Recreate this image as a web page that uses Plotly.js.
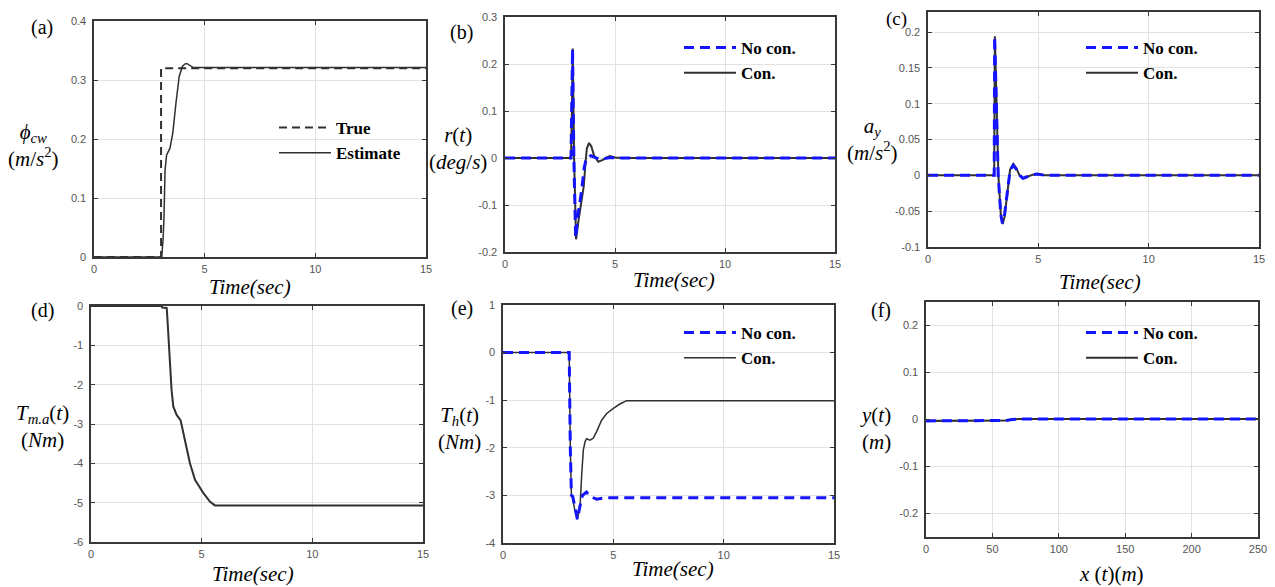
<!DOCTYPE html>
<html><head><meta charset="utf-8">
<script src="https://cdn.plot.ly/plotly-3.0.1.min.js"></script>
<style>html,body{margin:0;padding:0;background:#fff;} #chart{width:1275px;height:587px;}</style>
</head><body><div id="chart"></div>
<script>
// ---------- data ----------
// (a) cross-wind estimate
const tA_true = [0, 3.03, 3.03, 15];
const vA_true = [0, 0, 0.32, 0.32];
const tA_est = [0, 3.06, 3.12, 3.16, 3.21, 3.28, 3.43, 3.56, 3.7, 3.85, 3.99, 4.1, 4.19, 4.34, 4.49, 5, 15];
const vA_est = [0, 0, 0.03, 0.063, 0.147, 0.173, 0.184, 0.21, 0.26, 0.306, 0.323, 0.327, 0.328, 0.324, 0.321, 0.321, 0.321];
// (b) yaw rate r(t)
const tB_nc = [0, 3.0, 3.03, 3.07, 3.13, 3.21, 3.32, 3.48, 3.6, 3.7, 3.9, 4.3, 4.8, 5.2, 15];
const vB_nc = [0, 0, 0.1, 0.232, 0.0, -0.17, -0.12, -0.07, -0.02, 0.0, 0.005, -0.003, 0.001, 0, 0];
const tB_c = [0, 3.0, 3.04, 3.08, 3.14, 3.23, 3.35, 3.5, 3.58, 3.66, 3.72, 3.82, 3.92, 4.05, 4.24, 4.45, 4.6, 4.77, 5.0, 5.3, 15];
const vB_c = [0, 0, 0.1, 0.233, 0.0, -0.173, -0.13, -0.085, -0.06, -0.01, 0.02, 0.032, 0.025, 0.005, -0.008, -0.004, 0.001, 0.004, 0.001, 0, 0];
// (c) lateral acceleration a_y
const tC_nc = [0, 3.0, 3.02, 3.1, 3.18, 3.3, 3.37, 3.46, 3.6, 3.72, 3.86, 4.0, 4.15, 4.3, 4.5, 4.75, 4.95, 5.3, 15];
const vC_nc = [0, 0, 0.194, 0.08, 0.0, -0.055, -0.067, -0.057, -0.02, 0.007, 0.014, 0.009, 0.0, -0.004, -0.002, 0.001, 0.002, 0, 0];
const tC_c = [0, 3.0, 3.03, 3.11, 3.19, 3.3, 3.38, 3.47, 3.6, 3.72, 3.87, 4.0, 4.15, 4.32, 4.5, 4.75, 4.95, 5.3, 15];
const vC_c = [0, 0, 0.194, 0.077, 0.0, -0.055, -0.068, -0.058, -0.02, 0.008, 0.016, 0.01, 0.0, -0.004, -0.002, 0.001, 0.002, 0, 0];
// (d) assist motor torque
const tD = [0, 3.19, 3.22, 3.42, 3.45, 3.5, 3.57, 3.64, 3.72, 3.87, 4.05, 4.25, 4.47, 4.7, 5.08, 5.38, 5.6, 15];
const vD = [0, 0, -0.04, -0.05, -0.3, -0.8, -1.29, -2.14, -2.56, -2.77, -2.91, -3.41, -4.0, -4.42, -4.76, -4.98, -5.07, -5.07];
// (e) hand torque
const tE_nc = [0, 3.0, 3.05, 3.1, 3.16, 3.22, 3.37, 3.5, 3.6, 3.78, 3.95, 4.24, 4.6, 15];
const vE_nc = [0, 0, -2.0, -3.0, -3.02, -3.15, -3.5, -3.2, -3.0, -2.93, -3.02, -3.08, -3.05, -3.05];
const tE_c = [0, 3.0, 3.05, 3.1, 3.15, 3.25, 3.37, 3.49, 3.57, 3.64, 3.72, 3.79, 3.94, 4.09, 4.24, 4.47, 4.7, 5.0, 5.3, 5.6, 15];
const vE_c = [0, 0, -2.0, -2.99, -3.05, -3.3, -3.5, -3.24, -2.54, -2.05, -1.87, -1.81, -1.84, -1.8, -1.66, -1.42, -1.28, -1.17, -1.08, -1.01, -1.01];
// (f) trajectory
const xF = [0, 20, 40, 55, 60, 65, 70, 100, 150, 200, 250];
const yF_nc = [-0.003, -0.003, -0.003, -0.003, -0.002, 0.0, 0.001, 0.001, 0.001, 0.001, 0.001];
const yF_c = [-0.003, -0.003, -0.003, -0.003, -0.002, 0.0, 0.001, 0.001, 0.001, 0.001, 0.001];

// tick labels
const tT = [0, 5, 10, 15];
const tX_F = [0, 50, 100, 150, 200, 250];
const tY_A = [0, 0.1, 0.2, 0.3, 0.4];
const tY_B = [-0.2, -0.1, 0, 0.1, 0.2, 0.3];
const tY_C = [-0.1, -0.05, 0, 0.05, 0.1, 0.15, 0.2];
const tY_D = [-6, -5, -4, -3, -2, -1, 0];
const tY_E = [-4, -3, -2, -1, 0, 1];
const tY_F = [-0.2, -0.1, 0, 0.1, 0.2];
const lab = v => String(v);   // hyphen-minus like the reference

// ---------- layout ----------
const W = 1275, H = 587;
const boxes = { // left, right, top, bottom in px
  1: [94, 426, 21, 257], 2: [505, 835, 17, 252], 3: [928, 1259, 12, 247],
  4: [91, 423, 306, 542], 5: [503, 834, 305, 543], 6: [926, 1258, 302, 537]
};
const FRAME = '#383838';
function ax(n, isX, range, vals) {
  const b = boxes[n];
  return {
    domain: isX ? [b[0] / W, b[1] / W] : [1 - b[3] / H, 1 - b[2] / H],
    anchor: (isX ? 'y' : 'x') + (n === 1 ? '' : n),
    range: range, autorange: false, fixedrange: true,
    tickmode: 'array', tickvals: vals, ticktext: vals.map(lab),
    showline: true, linecolor: FRAME, linewidth: 1.6, mirror: 'ticks',
    ticks: 'inside', ticklen: 4, tickwidth: 1, tickcolor: FRAME,
    showgrid: true, gridcolor: '#e2e2e2', gridwidth: 1, zeroline: false,
    tickfont: { family: 'Liberation Sans, Arial, sans-serif', size: 11, color: '#555' },
    ticklabelstandoff: isX ? 1 : 4
  };
}
const layout = {
  width: W, height: H, margin: { l: 0, r: 0, t: 0, b: 0 },
  paper_bgcolor: '#fff', plot_bgcolor: '#fff', showlegend: true,
  xaxis: ax(1, true, [0, 15], tT), yaxis: ax(1, false, [0, 0.4], tY_A),
  xaxis2: ax(2, true, [0, 15], tT), yaxis2: ax(2, false, [-0.2, 0.3], tY_B),
  xaxis3: ax(3, true, [0, 15], tT), yaxis3: ax(3, false, [-0.1, 0.228], tY_C),
  xaxis4: ax(4, true, [0, 15], tT), yaxis4: ax(4, false, [-6, 0], tY_D),
  xaxis5: ax(5, true, [0, 15], tT), yaxis5: ax(5, false, [-4, 1], tY_E),
  xaxis6: ax(6, true, [0, 250], tX_F), yaxis6: ax(6, false, [-0.25, 0.25], tY_F),
  annotations: []
};
function leg(px, py) {
  return {
    x: px / W, y: 1 - py / H, xanchor: 'left', yanchor: 'top',
    bgcolor: 'rgba(0,0,0,0)', borderwidth: 0, itemwidth: 52,
    traceorder: 'normal',
    font: { family: 'Liberation Serif, Times New Roman, serif', size: 17, color: '#000' }
  };
}
layout.legend = leg(274, 110);
layout.legend2 = leg(679, 30);
layout.legend3 = leg(1081, 30);
layout.legend5 = leg(679, 315);
layout.legend6 = leg(1081, 315);

// text annotations
const SERIF = 'Liberation Serif, Times New Roman, serif';
function txt(s, px, py, size) {
  layout.annotations.push({
    text: s, xref: 'paper', yref: 'paper', x: px / W, y: 1 - py / H,
    xanchor: 'center', yanchor: 'middle', showarrow: false,
    font: { family: SERIF, size: size, color: '#000' }
  });
}
// panel labels
txt('(a)', 42, 27, 20); txt('(b)', 461, 32, 20); txt('(c)', 896, 19, 19);
txt('(d)', 43, 310, 20); txt('(e)', 462, 308, 20); txt('(f)', 881, 310, 20);
// x titles
txt('<i>Time(sec)</i>', 250, 287, 21); txt('<i>Time(sec)</i>', 674, 280, 21);
txt('<i>Time(sec)</i>', 1100, 282, 21); txt('<i>Time(sec)</i>', 253, 574, 21);
txt('<i>Time(sec)</i>', 673, 569, 21); txt('<i>x</i> (<i>t</i>)(<i>m</i>)', 1111, 574, 21);
// y titles (two lines)
txt('<i>ϕ<sub>cw</sub></i><br>(<i>m</i>/<i>s</i><sup>2</sup>)', 33, 146, 21);
txt('<i>r</i>(<i>t</i>)<br>(<i>deg</i>/<i>s</i>)', 458, 149, 21);
txt('<i>a<sub>y</sub></i><br>(<i>m</i>/<i>s</i><sup>2</sup>)', 872, 140, 21);
txt('<i>T<sub>m.a</sub></i>(<i>t</i>)<br>(<i>Nm</i>)', 43, 426, 21);
txt('<i>T<sub>h</sub></i>(<i>t</i>)<br>(<i>Nm</i>)', 459, 428, 21);
txt('<i>y</i>(<i>t</i>)<br>(<i>m</i>)', 875, 428, 21);

// ---------- traces ----------
const BLUE = '#1414ff', BLK = '#303030';
const dashBlue = { color: BLUE, width: 3, dash: '10px,6px' };
const solidBlk = { color: BLK, width: 2 };
function tr(x, y, n, name, line, legend, rank, show) {
  return { x: x, y: y, xaxis: 'x' + (n === 1 ? '' : n), yaxis: 'y' + (n === 1 ? '' : n),
    type: 'scatter', mode: 'lines', name: name, line: line, legend: legend,
    legendrank: rank, showlegend: show !== false, hoverinfo: 'skip' };
}
const data = [
  tr(tA_true, vA_true, 1, '<b>True</b>', { color: BLK, width: 2, dash: '8px,5px' }, 'legend', 1),
  tr(tA_est, vA_est, 1, '<b>Estimate</b>', { color: BLK, width: 1.5 }, 'legend', 2),
  tr(tB_c, vB_c, 2, '<b>Con.</b>', solidBlk, 'legend2', 2),
  tr(tB_nc, vB_nc, 2, '<b>No con.</b>', dashBlue, 'legend2', 1),
  tr(tC_c, vC_c, 3, '<b>Con.</b>', solidBlk, 'legend3', 2),
  tr(tC_nc, vC_nc, 3, '<b>No con.</b>', dashBlue, 'legend3', 1),
  tr(tD, vD, 4, 'T_m.a', { color: BLK, width: 2 }, 'legend4', 1, false),
  tr(tE_c, vE_c, 5, '<b>Con.</b>', { color: BLK, width: 1.5 }, 'legend5', 2),
  tr(tE_nc, vE_nc, 5, '<b>No con.</b>', dashBlue, 'legend5', 1),
  tr(xF, yF_c, 6, '<b>Con.</b>', solidBlk, 'legend6', 2),
  tr(xF, yF_nc, 6, '<b>No con.</b>', dashBlue, 'legend6', 1)
];
Plotly.newPlot('chart', data, layout, { displayModeBar: false, staticPlot: true });
</script></body></html>
